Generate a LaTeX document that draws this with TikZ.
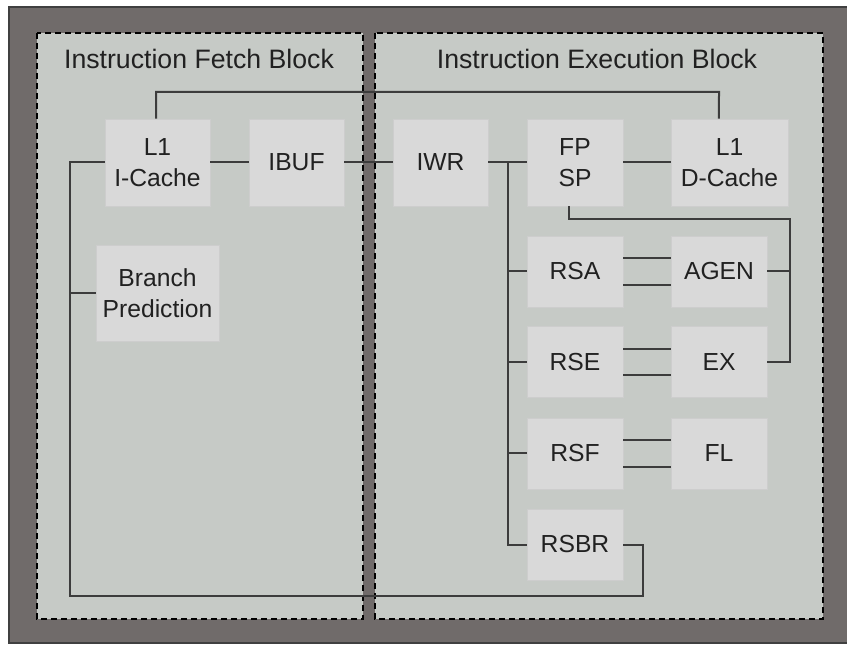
\documentclass[tikz,border=0pt]{standalone}
\usepackage{fontspec}
\setmainfont{Liberation Sans}
\usepackage{tikz}
\usetikzlibrary{arrows.meta}

\definecolor{frameGray}{HTML}{706B6A}
\definecolor{panelGray}{HTML}{C6CAC6}
\definecolor{boxGray}{HTML}{D9D9D9}
\definecolor{boxEdge}{HTML}{CDCDCD}
\definecolor{wireGray}{HTML}{3C3C3C}

\begin{document}
\begin{tikzpicture}[x=0.75pt, y=-0.75pt]

\tikzstyle{block_panel} = [fill=panelGray, draw=black, line width=1.6pt, dash pattern=on 4.5pt off 3pt]
\tikzstyle{block_title} = [font=\fontsize{20}{24}\selectfont, text=black!87]
\tikzstyle{unit_box} = [rectangle, fill=boxGray, draw=boxEdge, line width=0.6pt, inner sep=0pt, align=center, font=\fontsize{18.5}{23}\selectfont, text=black!87, minimum height=65.25pt]
\tikzstyle{unit_small} = [unit_box, minimum height=53.25pt, minimum width=72pt]
\tikzstyle{wire} = [draw=wireGray, line width=1.5pt]

\useasboundingbox (0,0) rectangle (847,645);

%------------------------------------------------------------
	\fill[white] (0,0) rectangle (847,645);
	\filldraw[fill=frameGray, draw=black!75, line width=0.8pt] (9,7) rectangle (850,643);
	\path[block_panel] (37,33) rectangle (363,619);
	\path[block_panel] (375,33) rectangle (823,619);

	\node[block_title] (fetch_title) at (199,59) {Instruction Fetch Block};
	\node[block_title] (exec_title) at (597,59) {Instruction Execution Block};

%------------------------------------------------------------
	\node[unit_box, minimum width=78.75pt] (icache) at (157.5,162.5) {L1\\I-Cache};
	\node[unit_box, minimum width=71.25pt] (ibuf) at (296.5,162.5) {IBUF};
	\node[unit_box, minimum width=92.25pt, minimum height=72pt] (bp) at (157.5,293) {Branch\\Prediction};

%------------------------------------------------------------
	\node[unit_box, minimum width=71.25pt] (iwr) at (440.5,162.5) {IWR};
	\node[unit_box, minimum width=72pt] (fpsp) at (575,162.5) {FP\\SP};
	\node[unit_box, minimum width=87.75pt] (dcache) at (729.5,162.5) {L1\\D-Cache};

	\node[unit_small] (rsa) at (575,271.5) {RSA};
	\node[unit_small] (agen) at (719,271.5) {AGEN};
	\node[unit_small] (rse) at (575,362) {RSE};
	\node[unit_small] (ex) at (719,362) {EX};
	\node[unit_small] (rsf) at (575,453.5) {RSF};
	\node[unit_small] (fl) at (719,453.5) {FL};
	\node[unit_small] (rsbr) at (575,544.5) {RSBR};

%------------------------------------------------------------
	\coordinate (top_right) at (719,92);
	\coordinate (loop_left) at (70,596);
	\coordinate (loop_right) at (643,596);
	\coordinate (bus) at (508,162.5);
	\coordinate (fp_right) at (790,219);

	\draw[wire] ([xshift=-1pt]icache.north) |- (top_right) -- ([xshift=-7.9pt]dcache.north);
	\draw[wire] (icache) -- (ibuf);
	\draw[wire] (ibuf) -- (iwr);
	\draw[wire] (iwr) -- (fpsp);
	\draw[wire] (fpsp) -- (dcache);

	\draw[wire] (icache.west) -| (loop_left) -- (loop_right) |- (rsbr.east);
	\draw[wire] (bp.west) -- (bp.west -| loop_left);

	\draw[wire] (bus) |- (rsbr.west);
	\foreach \rs in {rsa, rse, rsf}
		\draw[wire] (\rs.west) -- (\rs.west -| bus);

	\draw[wire] ([yshift=10pt]rsa.east) -- ([yshift=10pt]agen.west);
	\draw[wire] ([yshift=-10pt]rsa.east) -- ([yshift=-10pt]agen.west);
	\draw[wire] ([yshift=10pt]rse.east) -- ([yshift=10pt]ex.west);
	\draw[wire] ([yshift=-10pt]rse.east) -- ([yshift=-10pt]ex.west);
	\draw[wire] ([yshift=10pt]rsf.east) -- ([yshift=10pt]fl.west);
	\draw[wire] ([yshift=-10pt]rsf.east) -- ([yshift=-10pt]fl.west);

	\draw[wire] ([xshift=-4.5pt]fpsp.south) |- (fp_right) |- (ex.east);
	\draw[wire] (agen.east) -- (agen.east -| fp_right);

\end{tikzpicture}
\end{document}
